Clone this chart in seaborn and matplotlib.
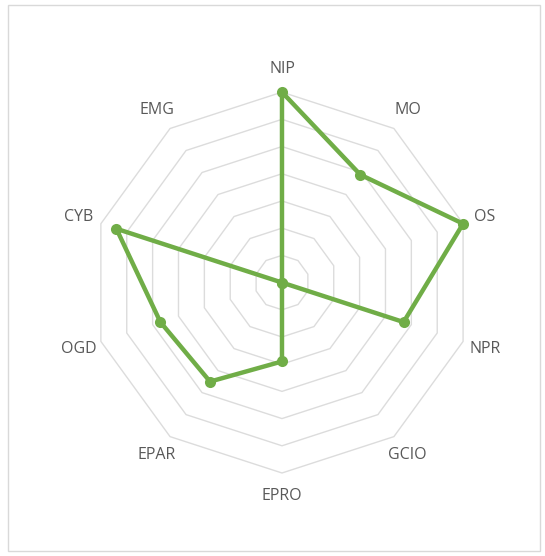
import numpy as np
import pandas as pd
import matplotlib
matplotlib.use("Agg")
import matplotlib.pyplot as plt
import seaborn as sns
from matplotlib.patches import Rectangle

# Scores per dimension, clockwise from the top
categories = ["NIP", "MO", "OS", "NPR", "GCIO", "EPRO", "EPAR", "OGD", "CYB", "EMG"]
scores = [7.0, 4.9, 7.0, 4.7, 0.0, 2.9, 4.5, 4.7, 6.4, 0.0]
ring_levels = [1, 2, 3, 4, 5, 6, 7]

sns.set_theme(style="white")
plt.rcParams["font.family"] = ["Open Sans", "DejaVu Sans"]

n = len(categories)
angles = np.linspace(0, 2 * np.pi, n, endpoint=False)

df = pd.DataFrame({
    "theta": np.append(angles, angles[0]),
    "score": scores + scores[:1],
})

fig = plt.figure(figsize=(5.45, 5.56), dpi=100)
ax = fig.add_axes([0.1679, 0.1493, 0.699, 0.685], projection="polar")
ax.set_theta_zero_location("N")
ax.set_theta_direction(-1)
ax.set_ylim(0, max(ring_levels))

# decagonal grid rings
grid_theta = np.append(angles, angles[0])
for lvl in ring_levels:
    ax.plot(grid_theta, [lvl] * (n + 1), color="#dcdcdc", lw=1.0, zorder=1,
            clip_on=False)

sns.lineplot(data=df, x="theta", y="score", sort=False, estimator=None,
             color="#70ad47", lw=3.2, ax=ax, zorder=3)
sns.scatterplot(data=df.iloc[:-1], x="theta", y="score", color="#70ad47",
                s=64, edgecolor="#70ad47", linewidth=0, ax=ax, zorder=4)
for artist in ax.lines + ax.collections:
    artist.set_clip_on(False)

ax.grid(False)
ax.spines["polar"].set_visible(False)
ax.set_xticks([])
ax.set_yticks([])
ax.set_xlabel("")
ax.set_ylabel("")
ax.patch.set_alpha(0)

label_r = 7.85
for ang, name in zip(angles, categories):
    ax.text(ang, label_r, name, ha="center", va="center", fontsize=11.5,
            color="#595959", zorder=5)

fig.patches.append(Rectangle((8 / 545, 5 / 556), 532 / 545, 546 / 556,
                             transform=fig.transFigure, fill=False,
                             edgecolor="#d9d9d9", lw=1.0))

fig.savefig("out.png", dpi=100, facecolor="white")
